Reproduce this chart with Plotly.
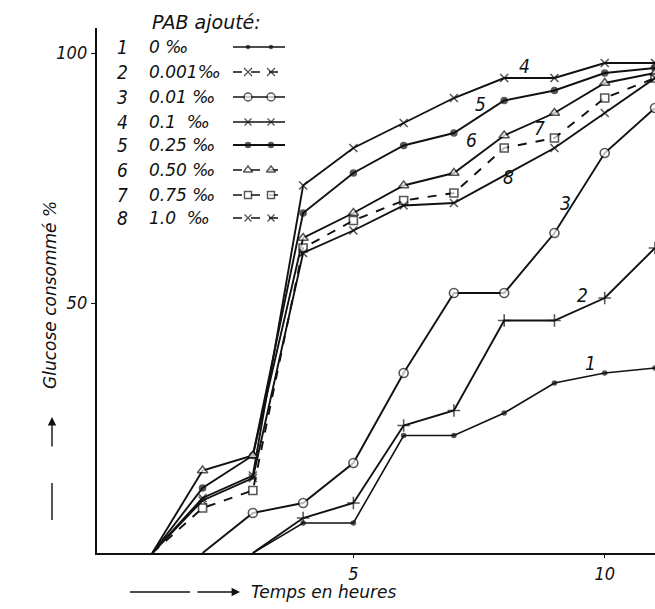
import plotly.graph_objects as go

# ---------------- data ----------------
hours_1 = [3, 4, 5, 6, 7, 8, 9, 10, 11]
glucose_1 = [0, 6, 6, 23.5, 23.5, 28, 34, 36, 37]

hours_2 = [3, 4, 5, 6, 7, 8, 9, 10, 11]
glucose_2 = [0, 7, 10, 25.5, 28.5, 46.5, 46.5, 51, 61]

hours_3 = [2, 3, 4, 5, 6, 7, 8, 9, 10, 11]
glucose_3 = [0, 8, 10, 18, 36, 52, 52, 64, 80, 89]

hours_4 = [1, 2, 3, 4, 5, 6, 7, 8, 9, 10, 11]
glucose_4 = [0, 11, 15.5, 73.5, 81, 86, 91, 95, 95, 98, 98]

hours_5 = [1, 2, 3, 4, 5, 6, 7, 8, 9, 10, 11]
glucose_5 = [0, 13, 19.5, 68, 76, 81.5, 84, 90.5, 92.5, 96, 97]

hours_6 = [1, 2, 3, 4, 5, 6, 7, 8, 9, 10, 11]
glucose_6 = [0, 16.5, 19.5, 63, 68, 73.5, 76, 83.5, 88, 94, 96]

hours_7 = [1, 2, 3, 4, 5, 6, 7, 8, 9, 10, 11]
glucose_7 = [0, 9, 12.5, 61, 66.5, 70.5, 72, 81, 83, 91, 95]

hours_8 = [1, 2, 3, 4, 5, 6, 7, 9, 10, 11]
glucose_8 = [0, 10.5, 15, 60, 64.5, 69.5, 70, 81, 88, 95]

curve_numbers = ["1", "2", "3", "4", "5", "6", "7", "8"]
pab_labels = ["0 ‰", "0.001‰", "0.01 ‰", "0.1  ‰", "0.25 ‰", "0.50 ‰", "0.75 ‰", "1.0  ‰"]
legend_title = "PAB ajouté:"
x_title = "Temps en heures"
y_title = "Glucose consommé %"
x_ticks = [5, 10]
y_ticks = [50, 100]

# curve-number labels on the chart (data coordinates)
label_x = [9.71, 9.55, 9.21, 8.41, 7.52, 7.34, 8.71, 8.08]
label_y = [38, 51.6, 70, 97.4, 89.8, 82.6, 85, 75.2]

# ---------------- styles ----------------
FONT = "DejaVu Sans Condensed, DejaVu Sans, sans-serif"
FONT_W = "DejaVu Sans, sans-serif"
INK = "#111111"
W, H = 655, 609
L, R, T, B = 97, 0, 28, 56

styles = [
    dict(sym="circle", size=4, dash="solid", lw=1.6, color=INK),
    dict(sym="cross-thin-open", size=9, dash="solid", lw=1.9, color=INK),
    dict(sym="circle", size=9, dash="solid", lw=1.9, color="white"),
    dict(sym="x-thin-open", size=8, dash="solid", lw=1.9, color=INK),
    dict(sym="circle", size=6, dash="solid", lw=1.9, color=INK),
    dict(sym="triangle-up", size=9, dash="solid", lw=1.9, color="white"),
    dict(sym="square", size=8, dash="dash", lw=1.9, color="white"),
    dict(sym="x-thin-open", size=8, dash="solid", lw=1.9, color=INK),
]
legend_dash = ["solid", "dash", "solid", "solid", "solid", "dash", "dash", "dash"]

series = [
    (hours_1, glucose_1), (hours_2, glucose_2), (hours_3, glucose_3), (hours_4, glucose_4),
    (hours_5, glucose_5), (hours_6, glucose_6), (hours_7, glucose_7), (hours_8, glucose_8),
]

fig = go.Figure()

for (xs, ys), st in zip(series, styles):
    # the starting point on the time axis carries no marker in the original
    sizes = [0] + [st["size"]] * (len(xs) - 1)
    fig.add_trace(go.Scatter(
        x=xs, y=ys, mode="lines+markers",
        line=dict(color=INK, width=st["lw"], dash=st["dash"]),
        marker=dict(symbol=st["sym"], size=sizes, color=st["color"],
                    line=dict(color=INK, width=1.6)),
        cliponaxis=False, showlegend=False, hoverinfo="skip",
    ))

# ---------------- hand-drawn style legend (overlay axis in pixel units) ----------------
row_y = [47, 72, 97, 122, 145, 170, 195, 218]
for i, st in enumerate(styles):
    ry = row_y[i]
    s = st["size"] - 1
    fig.add_trace(go.Scatter(
        x=[233, 248, 271, 285], y=[ry] * 4, xaxis="x2", yaxis="y2",
        mode="lines+markers",
        line=dict(color=INK, width=1.6 if i != 4 else 2.2, dash=legend_dash[i]),
        marker=dict(symbol=st["sym"].replace("cross", "x"), size=[0, s, s, 0],
                    color=st["color"], line=dict(color=INK, width=1.4)),
        cliponaxis=False, showlegend=False, hoverinfo="skip",
    ))


def px(x, y):
    return (x - L) / (W - L - R), (H - B - y) / (H - T - B)


ann = []
ital = dict(family=FONT_W, size=17, color=INK, style="italic")

tx, ty = px(150, 22)
ann.append(dict(x=tx, y=ty, xref="paper", yref="paper", text=legend_title, showarrow=False,
                xanchor="left", yanchor="middle", font=dict(family=FONT_W, size=19, color=INK, style="italic")))
for i in range(8):
    nx, ny = px(122, row_y[i])
    ann.append(dict(x=nx, y=ny, xref="paper", yref="paper", text=curve_numbers[i], showarrow=False,
                    xanchor="center", yanchor="middle", font=dict(family=FONT, size=19, color=INK, style="italic")))
    vx, vy = px(147, row_y[i])
    ann.append(dict(x=vx, y=vy, xref="paper", yref="paper", text=pab_labels[i], showarrow=False,
                    xanchor="left", yanchor="middle", font=ital))

for i in range(8):
    ann.append(dict(x=label_x[i], y=label_y[i], xref="x", yref="y", text=curve_numbers[i],
                    showarrow=False, font=dict(family=FONT, size=19, color=INK, style="italic")))

# axis titles
ax_, ay_ = px(323, 592)
ann.append(dict(x=ax_, y=ay_, xref="paper", yref="paper", text=x_title, showarrow=False,
                xanchor="center", yanchor="middle", font=dict(family=FONT_W, size=17, color=INK, style="italic")))
yx, yy = px(50, 295)
ann.append(dict(x=yx, y=yy, xref="paper", yref="paper", text=y_title, showarrow=False, textangle=-90,
                xanchor="center", yanchor="middle", font=dict(family=FONT_W, size=17, color=INK, style="italic")))

# arrows
hx, hy = px(240, 592)
ann.append(dict(x=hx, y=hy, xref="paper", yref="paper", text="", showarrow=True, ax=-44, ay=0,
                arrowhead=2, arrowsize=1.2, arrowwidth=1.4, arrowcolor=INK))
vx2, vy2 = px(52, 417)
ann.append(dict(x=vx2, y=vy2, xref="paper", yref="paper", text="", showarrow=True, ax=0, ay=31,
                arrowhead=2, arrowsize=1.2, arrowwidth=1.4, arrowcolor=INK))

shapes = []
x0, y0 = px(130, 592)
x1, y1 = px(190, 592)
shapes.append(dict(type="line", xref="paper", yref="paper", x0=x0, y0=y0, x1=x1, y1=y1,
                   line=dict(color=INK, width=1.4)))
x0, y0 = px(52, 483)
x1, y1 = px(52, 520)
shapes.append(dict(type="line", xref="paper", yref="paper", x0=x0, y0=y0, x1=x1, y1=y1,
                   line=dict(color=INK, width=1.4)))

tickf = dict(family=FONT, size=18, color=INK, style="italic")
fig.update_layout(
    width=W, height=H,
    margin=dict(l=L, r=R, t=T, b=B),
    paper_bgcolor="white", plot_bgcolor="white",
    font=dict(family=FONT, color=INK),
    annotations=ann, shapes=shapes,
    xaxis=dict(range=[-0.1, 11.0], tickvals=x_ticks, ticktext=[str(v) for v in x_ticks],
               showgrid=False, zeroline=False, showline=True, linecolor=INK, linewidth=2.2,
               ticks="outside", ticklen=3, tickcolor=INK, tickwidth=1.2,
               tickfont=tickf, fixedrange=True),
    yaxis=dict(range=[0, 105], tickvals=y_ticks, ticktext=[str(v) for v in y_ticks],
               showgrid=False, zeroline=False, showline=True, linecolor=INK, linewidth=2.4,
               ticks="outside", ticklen=4, tickcolor=INK, tickwidth=1.2,
               tickfont=tickf, fixedrange=True),
    xaxis2=dict(overlaying="x", range=[L, W - R], visible=False, fixedrange=True),
    yaxis2=dict(overlaying="y", range=[H - B, T], visible=False, fixedrange=True),
)

fig.write_html("out.html", config={"displayModeBar": False},
               post_script="document.body.style.margin='0';")
